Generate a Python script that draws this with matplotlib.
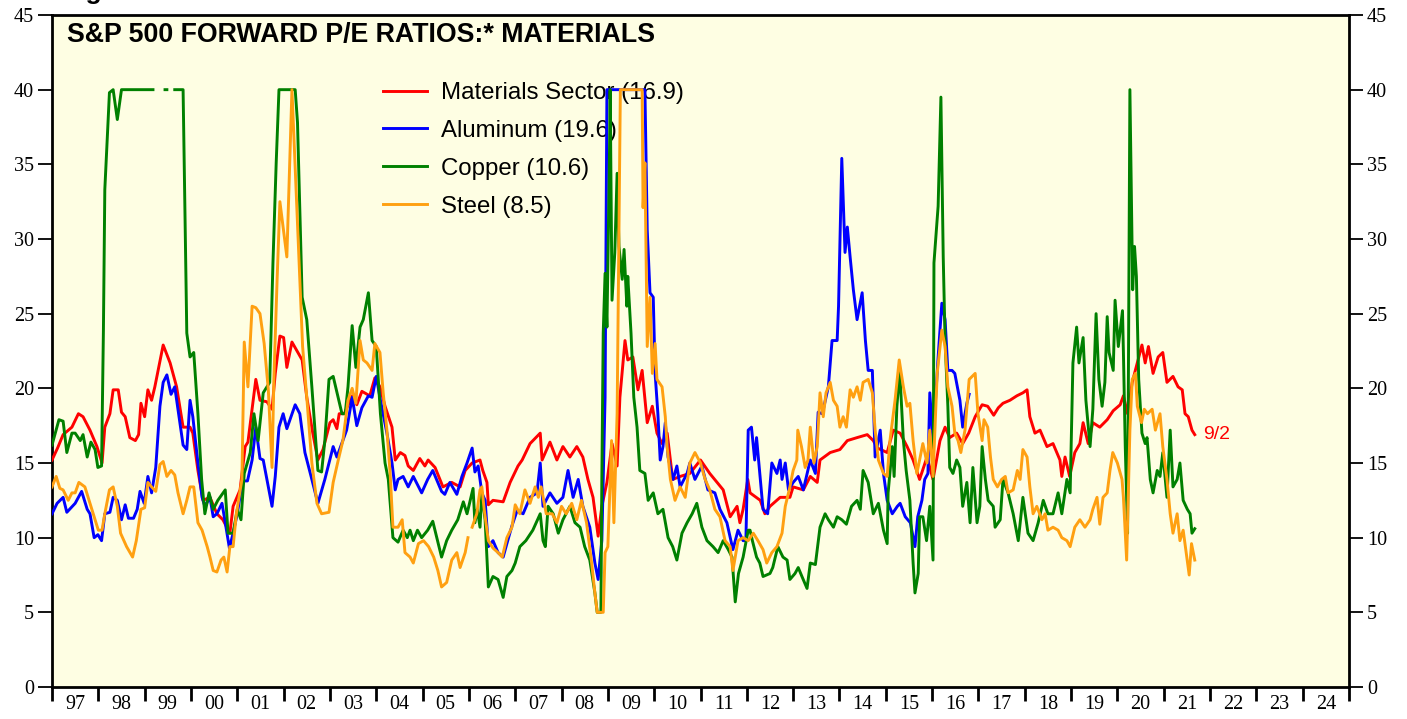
import numpy as np
import matplotlib
matplotlib.use("Agg")
import matplotlib.pyplot as plt

nan = np.nan

# ---------------- data (decimal year, forward P/E) ----------------
t_mat = [1997.0, 1997.12, 1997.24, 1997.43, 1997.57, 1997.67, 1997.82, 1997.97, 1998.08, 1998.14, 1998.25, 1998.32,
         1998.43, 1998.5, 1998.58, 1998.68, 1998.8, 1998.87, 1998.92, 1999.0, 1999.07, 1999.15, 1999.22, 1999.4,
         1999.55, 1999.69, 1999.83, 1999.98, 2000.04, 2000.15, 2000.26, 2000.41, 2000.56, 2000.69, 2000.84, 2000.91,
         2001.06, 2001.17, 2001.23, 2001.4, 2001.49, 2001.64, 2001.75, 2001.82, 2001.92, 2002.0, 2002.07, 2002.18,
         2002.4, 2002.5, 2002.63, 2002.74, 2002.85, 2003.0, 2003.07, 2003.15, 2003.2, 2003.31, 2003.48, 2003.58,
         2003.69, 2003.86, 2003.97, 2004.08, 2004.19, 2004.34, 2004.41, 2004.52, 2004.62, 2004.69, 2004.8, 2004.94,
         2005.05, 2005.12, 2005.27, 2005.44, 2005.63, 2005.81, 2005.92, 2006.07, 2006.24, 2006.3, 2006.39, 2006.42,
         2006.52, 2006.74, 2006.89, 2007.06, 2007.15, 2007.32, 2007.54, 2007.58, 2007.75, 2007.9, 2008.03, 2008.18,
         2008.33, 2008.46, 2008.57, 2008.68, 2008.79, 2008.87, 2008.98, 2009.09, 2009.2, 2009.26, 2009.37, 2009.43,
         2009.54, 2009.65, 2009.74, 2009.85, 2009.96, 2010.06, 2010.17, 2010.28, 2010.4, 2010.56, 2010.77, 2011.0,
         2011.2, 2011.49, 2011.64, 2011.79, 2011.85, 2011.92, 2012.02, 2012.07, 2012.29, 2012.39, 2012.5, 2012.72,
         2012.93, 2013.0, 2013.22, 2013.37, 2013.52, 2013.58, 2013.8, 2014.01, 2014.17, 2014.38, 2014.6, 2014.73,
         2014.82, 2015.03, 2015.16, 2015.31, 2015.46, 2015.59, 2015.73, 2015.89, 2016.02, 2016.17, 2016.28, 2016.38,
         2016.53, 2016.66, 2016.79, 2016.93, 2017.08, 2017.2, 2017.33, 2017.43, 2017.53, 2017.68, 2017.83, 2017.96,
         2018.05, 2018.11, 2018.22, 2018.33, 2018.48, 2018.61, 2018.76, 2018.8, 2018.87, 2018.97, 2019.08, 2019.19,
         2019.26, 2019.37, 2019.47, 2019.62, 2019.78, 2019.91, 2020.06, 2020.13, 2020.22, 2020.32, 2020.43, 2020.53,
         2020.6, 2020.67, 2020.77, 2020.88, 2020.98, 2021.07, 2021.2, 2021.31, 2021.4, 2021.46, 2021.53, 2021.61,
         2021.67]
v_mat = [15.2, 16.0, 16.9, 17.4, 18.3, 18.1, 17.2, 16.1, 15.0, 17.4, 18.3, 19.9,
         19.9, 18.4, 18.1, 16.7, 16.5, 16.9, 19.0, 18.1, 19.9, 19.2, 20.1, 22.9,
         21.7, 20.1, 17.4, 17.4, 17.0, 14.5, 12.5, 12.7, 11.6, 11.2, 10.3, 12.1,
         13.2, 16.1, 16.4, 20.6, 19.2, 19.1, 18.6, 21.0, 23.5, 23.4, 21.4, 23.1,
         21.9, 19.4, 17.0, 15.2, 15.9, 17.7, 17.9, 17.3, 18.3, 18.3, 19.5, 18.9,
         19.8, 19.5, 20.7, 20.1, 18.8, 17.4, 15.2, 15.7, 15.5, 14.8, 14.5, 15.3,
         14.8, 15.2, 14.7, 13.4, 13.7, 13.4, 14.5, 15.0, 15.2, 14.5, 13.7, 12.2,
         12.5, 12.4, 13.7, 14.8, 15.2, 16.3, 17.0, 15.2, 16.4, 15.2, 16.1, 15.4,
         16.1, 15.4, 13.9, 12.7, 10.1, 12.1, 13.7, 16.3, 14.8, 19.4, 23.2, 21.9,
         22.1, 19.9, 21.2, 17.7, 18.8, 17.0, 16.3, 17.0, 13.9, 14.1, 14.3, 15.2,
         14.3, 13.2, 11.4, 12.1, 11.0, 11.9, 13.9, 13.0, 12.5, 11.6, 12.1, 12.7,
         12.7, 13.4, 13.2, 14.1, 13.7, 15.2, 15.7, 15.9, 16.5, 16.7, 16.9, 16.5,
         16.0, 15.7, 17.2, 17.0, 16.1, 15.2, 13.9, 15.4, 13.9, 16.5, 17.4, 16.7,
         17.0, 16.3, 17.0, 18.1, 18.9, 18.8, 18.2, 18.7, 19.0, 19.2, 19.5, 19.7,
         19.9, 18.1, 17.0, 17.2, 16.1, 16.3, 15.2, 14.1, 15.4, 14.1, 15.7, 16.3,
         17.7, 16.3, 17.7, 17.4, 17.9, 18.5, 18.9, 19.5, 18.3, 20.4, 21.7, 22.9,
         21.7, 22.8, 21.0, 22.1, 22.4, 20.4, 20.8, 20.1, 19.9, 18.3, 18.1, 17.2,
         16.9]

t_alu = [1997.0, 1997.11, 1997.24, 1997.32, 1997.5, 1997.64, 1997.76, 1997.82, 1997.91, 1997.99, 1998.07, 1998.14,
         1998.25, 1998.32, 1998.41, 1998.5, 1998.58, 1998.65, 1998.76, 1998.84, 1998.9, 1998.99, 1999.07, 1999.15,
         1999.24, 1999.33, 1999.4, 1999.48, 1999.57, 1999.65, 1999.72, 1999.83, 1999.91, 1999.98, 2000.04, 2000.15,
         2000.24, 2000.3, 2000.41, 2000.48, 2000.56, 2000.67, 2000.73, 2000.83, 2000.91, 2001.0, 2001.11, 2001.22,
         2001.32, 2001.4, 2001.49, 2001.56, 2001.75, 2001.82, 2001.9, 2001.99, 2002.07, 2002.25, 2002.35, 2002.46,
         2002.61, 2002.74, 2002.89, 2003.07, 2003.15, 2003.36, 2003.48, 2003.58, 2003.69, 2003.83, 2003.91, 2004.0,
         2004.09, 2004.23, 2004.34, 2004.41, 2004.47, 2004.58, 2004.69, 2004.8, 2004.98, 2005.11, 2005.22, 2005.33,
         2005.41, 2005.48, 2005.59, 2005.74, 2005.85, 2005.96, 2006.07, 2006.13, 2006.2, 2006.28, 2006.35, 2006.42,
         2006.52, 2006.63, 2006.74, 2006.82, 2006.93, 2007.04, 2007.17, 2007.32, 2007.47, 2007.54, 2007.6, 2007.75,
         2007.9, 2008.03, 2008.14, 2008.25, 2008.36, 2008.46, 2008.61, 2008.72, 2008.79, 2008.87, 2008.94, 2008.98,
         2009.8, 2009.85, 2009.91, 2009.98, 2010.02, 2010.08, 2010.13, 2010.19, 2010.24, 2010.3, 2010.41, 2010.49,
         2010.56, 2010.71, 2010.77, 2010.88, 2011.03, 2011.16, 2011.31, 2011.42, 2011.57, 2011.7, 2011.81, 2011.92,
         2011.98, 2012.03, 2012.1, 2012.17, 2012.21, 2012.28, 2012.35, 2012.45, 2012.54, 2012.65, 2012.72, 2012.76,
         2012.83, 2012.9, 2013.0, 2013.11, 2013.22, 2013.37, 2013.48, 2013.54, 2013.63, 2013.76, 2013.84, 2013.95,
         2013.98, 2014.05, 2014.12, 2014.17, 2014.23, 2014.3, 2014.38, 2014.49, 2014.56, 2014.62, 2014.71, 2014.77,
         2014.88, 2014.95, 2015.03, 2015.14, 2015.25, 2015.31, 2015.42, 2015.53, 2015.63, 2015.69, 2015.78, 2015.84,
         2015.91, 2015.95, 2016.02, 2016.13, 2016.21, 2016.28, 2016.34, 2016.43, 2016.49, 2016.6, 2016.66, 2016.75,
         2016.8]
v_alu = [11.6, 12.3, 12.7, 11.7, 12.3, 13.1, 11.9, 11.6, 10.0, 10.2, 9.8, 11.6,
         11.7, 12.7, 12.5, 11.2, 12.2, 11.3, 11.3, 11.9, 13.1, 12.3, 14.1, 13.0,
         14.7, 18.8, 20.4, 20.9, 19.6, 20.1, 18.6, 16.2, 15.9, 19.2, 18.1, 15.0,
         12.7, 12.1, 12.7, 11.4, 11.6, 12.3, 11.2, 9.3, 10.3, 11.6, 13.8, 13.8,
         15.2, 17.4, 15.3, 15.2, 12.1, 14.1, 17.4, 18.3, 17.3, 18.9, 18.3, 15.7,
         13.9, 12.3, 13.9, 16.1, 15.4, 17.2, 19.4, 17.5, 18.7, 19.5, 19.4, 20.8,
         19.2, 17.0, 15.0, 13.2, 13.9, 14.1, 13.4, 14.1, 13.0, 13.9, 14.5, 13.7,
         13.1, 12.9, 13.7, 12.9, 14.1, 15.0, 16.0, 14.4, 14.8, 13.0, 12.5, 9.4,
         9.8, 9.0, 8.7, 9.6, 10.8, 11.8, 11.6, 12.7, 13.0, 15.0, 12.1, 13.0,
         12.3, 12.7, 14.5, 12.7, 13.9, 12.1, 10.7, 8.3, 7.2, 9.8, 19.4, 40.0,
         40.0, 30.6, 26.4, 26.1, 21.0, 18.3, 15.2, 16.1, 17.7, 15.4, 13.9, 14.8,
         13.4, 14.3, 15.0, 13.9, 14.8, 13.2, 13.0, 11.9, 11.0, 9.2, 10.5, 9.8,
         9.8, 17.2, 17.4, 15.2, 16.7, 14.3, 11.9, 11.6, 15.0, 14.3, 15.2, 13.9,
         15.0, 13.2, 13.7, 14.1, 13.2, 15.2, 14.3, 18.4, 18.3, 20.1, 23.2, 23.2,
         25.5, 35.4, 29.1, 30.8, 28.8, 26.6, 24.6, 26.4, 23.2, 21.2, 21.2, 15.4,
         17.2, 14.3, 12.5, 11.6, 12.1, 12.3, 11.4, 11.0, 9.4, 11.4, 12.5, 13.9,
         14.3, 19.7, 16.5, 22.1, 25.7, 24.6, 21.2, 21.2, 21.0, 19.2, 17.4, 19.0,
         19.6]

t_cop = [1997.0, 1997.15, 1997.24, 1997.32, 1997.43, 1997.5, 1997.61, 1997.67, 1997.76, 1997.84, 1997.93, 1997.99,
         1998.07, 1998.11, 1998.14, 1998.24, 1998.32, 1998.41, 1998.5, 1999.18, 1999.3, 1999.44, 1999.48, 1999.55,
         1999.65, 1999.83, 1999.91, 1999.98, 2000.06, 2000.15, 2000.23, 2000.3, 2000.39, 2000.48, 2000.58, 2000.74,
         2000.8, 2000.91, 2001.0, 2001.08, 2001.15, 2001.28, 2001.36, 2001.45, 2001.56, 2001.7, 2001.77, 2001.84,
         2001.9, 2002.25, 2002.3, 2002.4, 2002.5, 2002.61, 2002.74, 2002.82, 2002.89, 2002.98, 2003.07, 2003.26,
         2003.33, 2003.39, 2003.48, 2003.56, 2003.65, 2003.72, 2003.83, 2003.91, 2004.0, 2004.09, 2004.19, 2004.26,
         2004.36, 2004.47, 2004.58, 2004.67, 2004.73, 2004.8, 2004.89, 2004.98, 2005.11, 2005.22, 2005.41, 2005.52,
         2005.63, 2005.76, 2005.88, 2005.96, 2006.09, 2006.13, 2006.18, 2006.24, 2006.28, 2006.35, 2006.42, 2006.52,
         2006.63, 2006.74, 2006.82, 2006.93, 2007.0, 2007.1, 2007.23, 2007.38, 2007.54, 2007.6, 2007.65, 2007.71,
         2007.82, 2007.93, 2008.03, 2008.18, 2008.29, 2008.4, 2008.5, 2008.61, 2008.72, 2008.77, 2008.85, 2008.87,
         2008.9, 2008.94, 2008.98, 2009.03, 2009.05, 2009.09, 2009.15, 2009.2, 2009.24, 2009.31, 2009.35, 2009.41,
         2009.43, 2009.5, 2009.56, 2009.63, 2009.69, 2009.8, 2009.87, 2009.98, 2010.08, 2010.19, 2010.3, 2010.4,
         2010.49, 2010.6, 2010.71, 2010.82, 2010.92, 2011.03, 2011.14, 2011.27, 2011.38, 2011.49, 2011.6, 2011.68,
         2011.75, 2011.82, 2011.92, 2012.03, 2012.07, 2012.12, 2012.21, 2012.28, 2012.35, 2012.5, 2012.56, 2012.67,
         2012.78, 2012.87, 2012.93, 2013.04, 2013.11, 2013.19, 2013.3, 2013.37, 2013.48, 2013.58, 2013.69, 2013.76,
         2013.87, 2013.95, 2014.05, 2014.15, 2014.26, 2014.38, 2014.45, 2014.51, 2014.62, 2014.73, 2014.84, 2014.95,
         2015.03, 2015.05, 2015.14, 2015.18, 2015.24, 2015.3, 2015.38, 2015.44, 2015.52, 2015.59, 2015.63, 2015.7,
         2015.73, 2015.8, 2015.88, 2015.95, 2016.02, 2016.04, 2016.13, 2016.19, 2016.24, 2016.28, 2016.34, 2016.38,
         2016.45, 2016.53, 2016.6, 2016.66, 2016.75, 2016.82, 2016.88, 2016.97, 2017.03, 2017.08, 2017.15, 2017.21,
         2017.32, 2017.36, 2017.47, 2017.53, 2017.64, 2017.75, 2017.86, 2017.96, 2018.07, 2018.18, 2018.29, 2018.4,
         2018.5, 2018.61, 2018.72, 2018.8, 2018.91, 2018.98, 2019.04, 2019.12, 2019.17, 2019.26, 2019.32, 2019.41,
         2019.47, 2019.54, 2019.6, 2019.67, 2019.73, 2019.78, 2019.82, 2019.91, 2019.95, 2020.02, 2020.11, 2020.13,
         2020.17, 2020.22, 2020.27, 2020.33, 2020.37, 2020.41, 2020.46, 2020.53, 2020.6, 2020.64, 2020.71, 2020.77,
         2020.86, 2020.92, 2020.98, 2021.07, 2021.14, 2021.2, 2021.29, 2021.35, 2021.42, 2021.51, 2021.57, 2021.61,
         2021.67]
v_cop = [16.2, 17.9, 17.8, 15.7, 17.0, 17.0, 16.5, 16.9, 15.4, 16.4, 15.9, 14.7,
         14.8, 23.9, 33.3, 39.8, 40.0, 38.0, 40.0, 40.0, nan, 40.0, 40.0, nan,
         40.0, 40.0, 23.7, 22.1, 22.4, 18.3, 13.9, 11.6, 13.0, 11.9, 12.5, 13.2,
         10.3, 10.3, 11.9, 11.2, 14.3, 15.7, 18.3, 16.5, 19.7, 20.4, 28.4, 35.1,
         40.0, 40.0, 37.8, 26.1, 24.6, 20.1, 14.5, 14.4, 16.5, 20.6, 20.8, 18.3,
         18.3, 20.1, 24.2, 21.4, 24.1, 24.6, 26.4, 23.2, 22.8, 18.3, 15.0, 13.9,
         10.0, 9.7, 10.5, 10.0, 10.5, 9.8, 10.5, 10.0, 10.5, 11.1, 8.7, 9.8,
         10.5, 11.2, 12.4, 11.6, 13.3, 11.0, 11.9, 10.7, 13.0, 11.2, 6.7, 7.4,
         7.2, 6.0, 7.4, 7.8, 8.3, 9.4, 9.8, 10.5, 11.6, 9.8, 9.4, 12.1,
         11.6, 10.3, 11.2, 12.1, 11.0, 10.7, 9.4, 8.5, 6.3, 5.0, 5.0, 13.9,
         23.7, 27.7, 24.1, 34.4, 40.0, 25.9, 29.1, 34.4, 29.5, 27.3, 29.3, 25.5,
         27.5, 23.7, 19.4, 17.4, 14.5, 14.3, 12.5, 13.0, 11.6, 11.9, 10.0, 9.4,
         8.5, 10.3, 11.0, 11.6, 12.3, 10.7, 9.8, 9.4, 9.0, 9.8, 9.2, 8.7,
         5.7, 7.6, 8.7, 10.5, 10.5, 9.8, 8.7, 8.3, 7.4, 7.6, 8.0, 9.4,
         8.7, 8.5, 7.2, 7.6, 8.0, 7.4, 6.6, 8.3, 8.2, 10.7, 11.6, 11.2,
         10.7, 11.4, 11.2, 10.9, 12.1, 12.5, 11.9, 14.5, 13.7, 11.6, 12.3, 10.5,
         9.6, 13.0, 16.1, 14.1, 18.8, 21.2, 16.5, 14.5, 12.5, 8.3, 6.3, 7.6,
         11.4, 11.4, 9.8, 12.1, 8.5, 28.4, 32.2, 39.5, 28.8, 23.2, 18.8, 14.7,
         14.3, 15.2, 14.7, 12.1, 13.7, 11.0, 14.7, 11.0, 12.1, 16.1, 13.9, 12.5,
         12.1, 10.7, 11.2, 13.9, 13.0, 11.6, 9.8, 12.7, 10.3, 9.8, 11.0, 12.5,
         11.6, 11.6, 13.0, 11.6, 13.9, 13.0, 21.7, 24.1, 21.7, 23.4, 19.2, 16.1,
         18.6, 25.0, 20.6, 18.8, 20.4, 24.8, 22.4, 21.2, 25.9, 22.8, 25.2, 22.4,
         16.1, 10.3, 40.0, 26.6, 29.5, 27.5, 20.6, 17.0, 16.3, 16.7, 13.9, 13.0,
         14.5, 14.1, 15.7, 12.7, 17.2, 13.4, 13.9, 15.0, 12.5, 11.9, 11.6, 10.3,
         10.6]

t_stl = [1997.0, 1997.09, 1997.17, 1997.24, 1997.35, 1997.43, 1997.5, 1997.58, 1997.71, 1997.82, 1997.93, 1998.0,
         1998.08, 1998.14, 1998.24, 1998.32, 1998.41, 1998.48, 1998.61, 1998.74, 1998.82, 1998.92, 1999.0, 1999.07,
         1999.15, 1999.24, 1999.33, 1999.4, 1999.48, 1999.57, 1999.65, 1999.72, 1999.83, 1999.91, 1999.98, 2000.06,
         2000.15, 2000.24, 2000.35, 2000.41, 2000.48, 2000.56, 2000.65, 2000.71, 2000.78, 2000.84, 2000.91, 2000.98,
         2001.1, 2001.15, 2001.23, 2001.32, 2001.4, 2001.49, 2001.58, 2001.67, 2001.75, 2001.79, 2001.86, 2001.92,
         2001.99, 2002.07, 2002.18, 2002.26, 2002.35, 2002.41, 2002.5, 2002.61, 2002.72, 2002.82, 2002.98, 2003.07,
         2003.18, 2003.28, 2003.39, 2003.48, 2003.56, 2003.65, 2003.72, 2003.8, 2003.91, 2003.97, 2004.08, 2004.15,
         2004.23, 2004.3, 2004.36, 2004.47, 2004.56, 2004.62, 2004.73, 2004.8, 2004.91, 2005.02, 2005.13, 2005.24,
         2005.33, 2005.41, 2005.52, 2005.63, 2005.74, 2005.81, 2005.92, 2005.98, 2006.03, 2006.07, 2006.17, 2006.24,
         2006.28, 2006.33, 2006.42, 2006.52, 2006.63, 2006.72, 2006.82, 2006.93, 2007.0, 2007.1, 2007.21, 2007.32,
         2007.43, 2007.5, 2007.56, 2007.67, 2007.8, 2007.9, 2008.0, 2008.1, 2008.22, 2008.33, 2008.43, 2008.54,
         2008.65, 2008.72, 2008.77, 2008.9, 2008.94, 2009.0, 2009.08, 2009.13, 2009.2, 2009.27, 2009.74, 2009.76,
         2009.8, 2009.85, 2009.91, 2009.96, 2010.02, 2010.06, 2010.17, 2010.24, 2010.28, 2010.35, 2010.45, 2010.56,
         2010.67, 2010.77, 2010.88, 2011.0, 2011.1, 2011.2, 2011.31, 2011.42, 2011.53, 2011.64, 2011.7, 2011.81,
         2011.92, 2012.03, 2012.14, 2012.24, 2012.35, 2012.43, 2012.54, 2012.65, 2012.76, 2012.83, 2012.93, 2013.0,
         2013.08, 2013.1, 2013.18, 2013.26, 2013.32, 2013.37, 2013.45, 2013.52, 2013.58, 2013.65, 2013.71, 2013.8,
         2013.87, 2013.95, 2014.01, 2014.08, 2014.15, 2014.23, 2014.3, 2014.38, 2014.45, 2014.51, 2014.62, 2014.71,
         2014.77, 2014.84, 2014.95, 2015.03, 2015.09, 2015.2, 2015.29, 2015.38, 2015.46, 2015.52, 2015.59, 2015.67,
         2015.73, 2015.8, 2015.89, 2015.95, 2016.02, 2016.11, 2016.21, 2016.28, 2016.34, 2016.43, 2016.49, 2016.56,
         2016.62, 2016.71, 2016.8, 2016.93, 2016.99, 2017.08, 2017.12, 2017.2, 2017.26, 2017.32, 2017.41, 2017.5,
         2017.58, 2017.64, 2017.75, 2017.84, 2017.9, 2017.96, 2018.05, 2018.11, 2018.18, 2018.26, 2018.37, 2018.44,
         2018.5, 2018.61, 2018.72, 2018.8, 2018.91, 2018.98, 2019.08, 2019.19, 2019.3, 2019.41, 2019.47, 2019.56,
         2019.62, 2019.69, 2019.78, 2019.84, 2019.9, 2020.0, 2020.1, 2020.13, 2020.2, 2020.27, 2020.32, 2020.39,
         2020.43, 2020.52, 2020.58, 2020.65, 2020.75, 2020.82, 2020.92, 2020.98, 2021.07, 2021.14, 2021.2, 2021.29,
         2021.35, 2021.42, 2021.55, 2021.6, 2021.67]
v_stl = [13.4, 14.1, 13.3, 13.2, 12.5, 13.0, 13.0, 13.7, 13.4, 12.3, 11.2, 10.5,
         10.5, 11.6, 13.2, 13.4, 12.1, 10.3, 9.4, 8.7, 9.8, 11.9, 12.0, 13.7,
         13.4, 13.1, 14.9, 15.1, 14.1, 14.5, 14.2, 13.0, 11.6, 12.5, 13.4, 13.4,
         11.0, 10.5, 9.4, 8.7, 7.8, 7.7, 8.5, 8.7, 7.7, 9.4, 9.4, 11.6,
         13.9, 23.1, 20.1, 25.5, 25.4, 25.0, 23.0, 19.9, 14.7, 20.6, 27.3, 32.5,
         30.8, 28.8, 40.0, 34.0, 27.3, 22.8, 19.4, 15.0, 12.3, 11.6, 11.7, 13.7,
         15.2, 16.5, 19.2, 20.0, 19.0, 23.2, 21.9, 21.7, 21.2, 23.0, 22.4, 19.7,
         17.2, 14.3, 10.7, 10.7, 11.2, 9.0, 8.7, 8.3, 9.6, 9.8, 9.4, 8.7,
         7.8, 6.7, 7.0, 8.5, 9.0, 8.0, 9.0, 10.0, nan, 10.7, 11.6, 13.2,
         13.4, 11.9, 9.8, 9.3, 9.0, 8.7, 10.0, 10.7, 12.2, 11.6, 13.2, 12.3,
         13.4, 12.7, 13.4, 11.6, 11.6, 11.0, 12.1, 11.6, 12.3, 11.2, 12.5, 11.0,
         8.3, 6.3, 5.0, 5.0, 9.0, 9.4, 16.5, 11.0, 18.3, 40.0, 40.0, 32.1,
         35.1, 22.8, 26.1, 21.0, 23.0, 20.6, 20.1, 18.1, 16.1, 13.9, 12.5, 13.4,
         12.7, 15.0, 15.7, 15.0, 13.9, 13.2, 11.9, 11.4, 9.8, 9.4, 7.8, 9.8,
         10.0, 9.8, 10.3, 9.8, 9.2, 8.3, 9.0, 9.4, 10.3, 12.1, 13.4, 14.5,
         15.2, 17.2, 16.1, 14.7, 15.2, 17.4, 15.0, 16.1, 19.7, 18.1, 19.7, 20.4,
         19.2, 18.8, 17.4, 18.1, 17.4, 19.9, 19.4, 20.1, 19.2, 20.4, 20.6, 19.7,
         17.2, 15.2, 14.3, 14.1, 16.5, 19.2, 21.9, 20.1, 18.8, 19.0, 16.5, 14.3,
         15.2, 16.3, 15.0, 17.2, 14.1, 21.0, 23.9, 22.8, 20.1, 18.8, 17.0, 16.5,
         15.7, 17.2, 20.6, 21.0, 18.3, 16.5, 17.9, 17.4, 15.4, 13.9, 13.4, 13.9,
         14.1, 13.0, 13.2, 14.5, 13.9, 15.9, 15.4, 13.4, 11.6, 12.1, 11.2, 11.6,
         10.5, 10.7, 10.5, 10.0, 9.8, 9.4, 10.7, 11.2, 10.7, 11.2, 11.9, 12.7,
         10.9, 12.7, 13.0, 14.5, 15.7, 15.0, 13.9, 12.7, 8.5, 17.2, 20.6, 21.0,
         18.8, 17.7, 18.6, 18.3, 18.6, 17.2, 18.3, 16.1, 13.9, 11.6, 10.3, 11.6,
         9.8, 10.5, 7.5, 9.6, 8.5]

series_names = ["Materials Sector (16.9)", "Aluminum (19.6)", "Copper (10.6)", "Steel (8.5)"]
year_labels = ["97", "98", "99", "00", "01", "02", "03", "04", "05", "06", "07", "08", "09", "10",
               "11", "12", "13", "14", "15", "16", "17", "18", "19", "20", "21", "22", "23", "24"]
y_ticks = [0, 5, 10, 15, 20, 25, 30, 35, 40, 45]
title = "S&P 500 FORWARD P/E RATIOS:* MATERIALS"
end_label = "9/2"

# ---------------- figure ----------------
W, H = 1407, 719
fig = plt.figure(figsize=(W / 100, H / 100), dpi=100, facecolor="white")
ax = fig.add_axes([52 / W, 1 - 687 / H, (1349 - 52) / W, (687 - 15) / H])
ax.set_facecolor("#FEFEE3")

colors = ["#FF0000", "#0000FF", "#008000", "#FFA011"]
data = [(t_mat, v_mat), (t_alu, v_alu), (t_cop, v_cop), (t_stl, v_stl)]
for (t, v), c, name in zip(data, colors, series_names):
    ax.plot(t, v, color=c, lw=2.1, label=name, zorder=3, solid_joinstyle="round")

ax.set_xlim(1997, 2025)
ax.set_ylim(0, 45)

# x axis: year boundary ticks + centred labels
ax.set_xticks(np.arange(1997, 2026))
ax.set_xticklabels([])
ax.set_xticks(np.arange(1997, 2025) + 0.5, minor=True)
ax.set_xticklabels(year_labels, minor=True)
ax.tick_params(axis="x", which="major", direction="out", length=10, width=2.0, color="black")
ax.tick_params(axis="x", which="minor", length=0, pad=6, labelsize=14.5)

ax.set_yticks(y_ticks)
ax.tick_params(axis="y", which="major", direction="out", length=10, width=1.3,
               labelsize=14.5, left=True, right=True, labelleft=True, labelright=True, pad=3)

for lab in ax.get_xticklabels(minor=True):
    lab.set_fontfamily("Liberation Serif")
for t2 in ax.yaxis.get_major_ticks():
    t2.label1.set_fontfamily("Liberation Serif")
    t2.label2.set_fontfamily("Liberation Serif")
    t2.label2.set_fontsize(14.5)

for s in ax.spines.values():
    s.set_linewidth(2.0)
    s.set_color("black")

ax.text((67 - 52) / 1297, (687 - 35) / 672, title, transform=ax.transAxes, ha="left", va="center",
        fontsize=19.3, fontweight="bold", family="Liberation Sans")

leg = ax.legend(loc="upper left", bbox_to_anchor=((383 - 52) / 1297, (687 - 82) / 672),
                frameon=False, prop={"family": "Liberation Sans", "size": 17.3},
                handlelength=1.85, handletextpad=0.58, labelspacing=0.66, borderpad=0, borderaxespad=0)
leg.set_zorder(1)

ax.annotate(end_label, xy=(t_mat[-1], v_mat[-1]), xytext=(6, 0), textcoords="offset points",
            color="#FF0000", fontsize=14, family="Liberation Sans", va="center", ha="left")

fig.text(62 / W, 1 + 1 / H, "Figure", ha="left", va="baseline", fontsize=19,
         fontweight="bold", family="Liberation Sans")

fig.savefig("out.png", dpi=100, facecolor="white")
